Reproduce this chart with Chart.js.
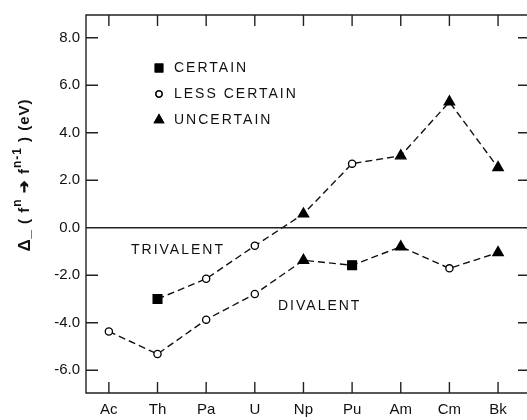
<!DOCTYPE html>
<html>
<head>
<meta charset="utf-8">
<script src="https://cdn.jsdelivr.net/npm/chart.js@4.4.1/dist/chart.umd.min.js"></script>
<style>
  body { margin: 0; background: #fff; }
  #wrap { width: 527px; height: 420px; }
</style>
</head>
<body>
<div id="wrap"><canvas id="energyChart"></canvas></div>
<script>
// actinide series along the bottom
var elements = ['Ac', 'Th', 'Pa', 'U', 'Np', 'Pu', 'Am', 'Cm', 'Bk'];
// y ticks
var yTicks = [8, 6, 4, 2, 0, -2, -4, -6];

// Delta_(f^n -> f^n-1) in eV
var trivalent = [null, -3.0, -2.15, -0.76, 0.58, 2.7, 3.03, 5.3, 2.53];
var divalent = [-4.37, -5.32, -3.87, -2.79, -1.37, -1.58, -0.8, -1.71, -1.05];

// how sure each value is
var trivalentCert = [null, 'certain', 'less', 'less', 'uncertain', 'less', 'uncertain', 'uncertain', 'uncertain'];
var divalentCert = ['less', 'less', 'less', 'less', 'uncertain', 'certain', 'uncertain', 'less', 'uncertain'];

var legendItems = [
  { key: 'certain', text: 'CERTAIN' },
  { key: 'less', text: 'LESS CERTAIN' },
  { key: 'uncertain', text: 'UNCERTAIN' }
];

var markers = {
  certain: { style: 'rect', radius: 6.2, fill: '#000' },
  less: { style: 'circle', radius: 3.6, fill: '#fff' },
  uncertain: { style: 'triangle', radius: 6, fill: '#000' }
};

var FONT = '"Liberation Sans", Arial, Helvetica, sans-serif';

function toPoints(values) {
  return values.map(function (v, i) { return { x: i, y: v }; });
}

function makeSet(label, values, cert) {
  return {
    label: label,
    data: toPoints(values),
    borderColor: '#111',
    borderWidth: 1.4,
    borderDash: [7, 4],
    showLine: true,
    pointStyle: cert.map(function (c) { return c ? markers[c].style : 'circle'; }),
    pointRadius: cert.map(function (c) { return c ? markers[c].radius : 0; }),
    pointBackgroundColor: cert.map(function (c) { return c ? markers[c].fill : '#fff'; }),
    pointBorderColor: '#000',
    pointBorderWidth: 1.3
  };
}

// frame, inward ticks, zero line, legend and labels
var decorations = {
  id: 'decorations',
  beforeDatasetsDraw: function (chart) {
    var ctx = chart.ctx, a = chart.chartArea;
    var xs = chart.scales.x, ys = chart.scales.y;
    ctx.save();
    ctx.strokeStyle = '#222';
    ctx.lineWidth = 1.4;
    ctx.beginPath();
    ctx.moveTo(527, a.top); ctx.lineTo(a.left, a.top);
    ctx.lineTo(a.left, a.bottom); ctx.lineTo(527, a.bottom);
    // zero line
    var z = ys.getPixelForValue(0);
    ctx.moveTo(a.left, z); ctx.lineTo(527, z);
    yTicks.forEach(function (v) {
      var p = ys.getPixelForValue(v);
      ctx.moveTo(a.left, p); ctx.lineTo(a.left + 12, p);
      ctx.moveTo(527, p); ctx.lineTo(518, p);
    });
    elements.forEach(function (e, i) {
      var p = xs.getPixelForValue(i);
      ctx.moveTo(p, a.top); ctx.lineTo(p, a.top + 11);
      ctx.moveTo(p, a.bottom); ctx.lineTo(p, a.bottom - 11);
    });
    ctx.stroke();
    ctx.restore();
  },
  afterDraw: function (chart) {
    var ctx = chart.ctx;
    ctx.save();
    ctx.fillStyle = '#111';
    ctx.textBaseline = 'middle';
    ctx.font = '14px ' + FONT;
    ctx.letterSpacing = '2px';

    // legend
    legendItems.forEach(function (item, i) {
      var y = 68 + i * 26;
      var m = markers[item.key];
      ctx.save();
      ctx.lineWidth = 1.3;
      ctx.strokeStyle = '#000';
      ctx.fillStyle = m.fill;
      Chart.helpers.drawPoint(ctx, { pointStyle: m.style, radius: m.radius * 0.85, borderWidth: 1.3 }, 159, y);
      ctx.fill();
      ctx.stroke();
      ctx.restore();
      ctx.fillText(item.text, 174, y);
    });

    // series labels
    ctx.fillText('TRIVALENT', 131, 250);
    ctx.fillText('DIVALENT', 278, 306);

    // y axis title, rotated
    ctx.translate(25, 175);
    ctx.rotate(-Math.PI / 2);
    ctx.letterSpacing = '1px';
    var runs = [
      { t: '\u0394', s: 17, dy: 0 },
      { t: '_', s: 15, dy: 1 },
      { t: ' ( f', s: 15, dy: 0 },
      { t: 'n', s: 12, dy: -7 },
      { t: ' \u2794 f', s: 15, dy: 0 },
      { t: 'n-1', s: 12, dy: -7 },
      { t: ' ) (eV)', s: 15, dy: 0 }
    ];
    var total = 0;
    runs.forEach(function (r) {
      ctx.font = 'bold ' + r.s + 'px ' + FONT;
      r.w = ctx.measureText(r.t).width;
      total += r.w;
    });
    var x = -total / 2;
    ctx.textAlign = 'left';
    runs.forEach(function (r) {
      ctx.font = 'bold ' + r.s + 'px ' + FONT;
      ctx.fillText(r.t, x, r.dy);
      x += r.w;
    });
    ctx.restore();
  }
};

var ctx = document.getElementById('energyChart').getContext('2d');
var chart = new Chart(ctx, {
  type: 'scatter',
  data: {
    datasets: [
      makeSet('Trivalent', trivalent, trivalentCert),
      makeSet('Divalent', divalent, divalentCert)
    ]
  },
  options: {
    responsive: true,
    maintainAspectRatio: false,
    animation: false,
    layout: { padding: { top: 10, left: 0, right: 0, bottom: 0 } },
    plugins: {
      legend: { display: false },
      tooltip: { enabled: false }
    },
    scales: {
      x: {
        type: 'linear',
        min: -0.47,
        max: 8.445,
        grid: { display: false, drawTicks: false },
        border: { display: false },
        afterBuildTicks: function (scale) {
          scale.ticks = elements.map(function (e, i) { return { value: i }; });
        },
        afterFit: function (scale) { scale.height = 27; },
        ticks: {
          padding: 8,
          color: '#111',
          maxRotation: 0,
          autoSkip: false,
          font: { family: FONT, size: 15 },
          callback: function (v) { return elements[v]; }
        }
      },
      y: {
        min: -6.96,
        max: 8.96,
        grid: { display: false, drawTicks: false },
        border: { display: false },
        afterBuildTicks: function (scale) {
          scale.ticks = yTicks.map(function (v) { return { value: v }; });
        },
        afterFit: function (scale) { scale.width = 86; },
        ticks: {
          padding: 6,
          color: '#111',
          font: { family: FONT, size: 15 },
          callback: function (v) { return v.toFixed(1); }
        }
      }
    }
  },
  plugins: [decorations]
});
</script>
</body>
</html>
